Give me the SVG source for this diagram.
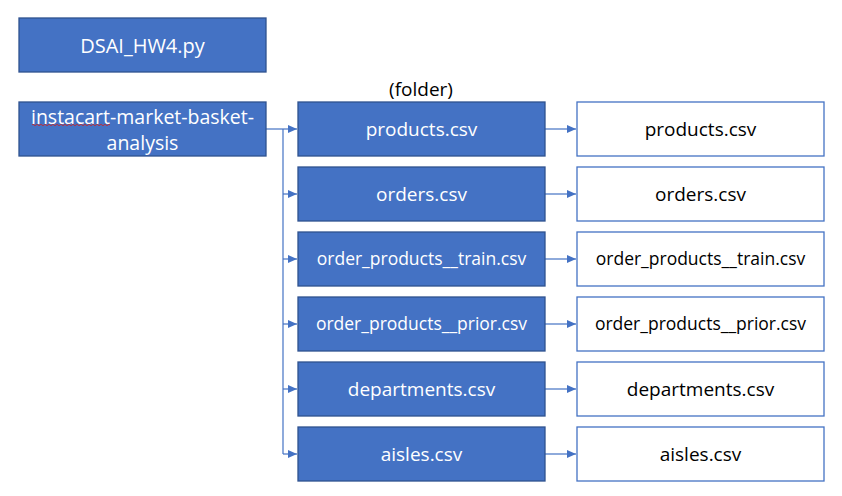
<svg xmlns="http://www.w3.org/2000/svg" width="842" height="496" viewBox="0 0 842 496">
<defs>
<style>
.fb{fill:#4472C4;stroke:#2F528F;stroke-width:1.3}
.wb{fill:#FFFFFF;stroke:#4472C4;stroke-width:1.3}
.tw{fill:#FFFFFF;font-family:"Open Sans","Noto Sans","DejaVu Sans",sans-serif;text-anchor:middle}
.tb{fill:#000000;font-family:"Open Sans","Noto Sans","DejaVu Sans",sans-serif;text-anchor:middle}
.c{fill:none;stroke:#4472C4;stroke-width:1.2}
</style>
<marker id="ah" markerWidth="10" markerHeight="10" refX="9" refY="5" orient="auto" markerUnits="userSpaceOnUse">
<path d="M0,1 L9,5 L0,9 Z" fill="#4472C4"/>
</marker>
</defs>
<rect width="842" height="496" fill="#FFFFFF"/>

<g id="connectors">
<path class="c" d="M266,129 H297" marker-end="url(#ah)"/>
<path class="c" d="M283,129 V454"/>
<path class="c" d="M283,194 H297" marker-end="url(#ah)"/>
<path class="c" d="M283,259 H297" marker-end="url(#ah)"/>
<path class="c" d="M283,324 H297" marker-end="url(#ah)"/>
<path class="c" d="M283,389 H297" marker-end="url(#ah)"/>
<path class="c" d="M283,454 H297" marker-end="url(#ah)"/>
<path class="c" d="M545,129 H576" marker-end="url(#ah)"/>
<path class="c" d="M545,194 H576" marker-end="url(#ah)"/>
<path class="c" d="M545,259 H576" marker-end="url(#ah)"/>
<path class="c" d="M545,324 H576" marker-end="url(#ah)"/>
<path class="c" d="M545,389 H576" marker-end="url(#ah)"/>
<path class="c" d="M545,454 H576" marker-end="url(#ah)"/>
</g>

<g id="dsai">
<rect class="fb" x="19" y="18" width="247" height="54"/>
<text class="tw" x="142.5" y="52.5" font-size="20">DSAI_HW4.py</text>
</g>

<g id="instacart">
<rect class="fb" x="19" y="102" width="247" height="54"/>
<text class="tw" x="142.5" y="124" font-size="19.5">instacart-market-basket-</text>
<text class="tw" x="142.5" y="149.5" font-size="19.5">analysis</text>
<path d="M32,125 q1,-1.5 2,0 t2,0 t2,0 t2,0 t2,0 t2,0 t2,0 t2,0 t2,0 t2,0 t2,0 t2,0 t2,0 t2,0 t2,0 t2,0 t2,0 t2,0 t2,0 t2,0 t2,0 t2,0 t2,0 t2,0 t2,0 t2,0 t2,0 t2,0 t2,0 t2,0 t2,0 t2,0 t2,0 t2,0 t2,0 t2,0 t2,0 t2,0 t2,0" fill="none" stroke="#D02020" stroke-width="0.8"/>
</g>

<text id="folder-label" class="tb" x="421" y="96" font-size="19">(folder)</text>

<g id="m-products">
<rect class="fb" x="298" y="102" width="247" height="54"/>
<text class="tw" x="421.5" y="135.5" font-size="19">products.csv</text>
</g>
<g id="m-orders">
<rect class="fb" x="298" y="167" width="247" height="54"/>
<text class="tw" x="421.5" y="200.5" font-size="19">orders.csv</text>
</g>
<g id="m-train">
<rect class="fb" x="298" y="232" width="247" height="54"/>
<text class="tw" x="421.5" y="265" font-size="17.5">order_products__train.csv</text>
</g>
<g id="m-prior">
<rect class="fb" x="298" y="297" width="247" height="54"/>
<text class="tw" x="421.5" y="330" font-size="17.5">order_products__prior.csv</text>
</g>
<g id="m-departments">
<rect class="fb" x="298" y="362" width="247" height="54"/>
<text class="tw" x="421.5" y="395.5" font-size="19">departments.csv</text>
</g>
<g id="m-aisles">
<rect class="fb" x="298" y="427" width="247" height="54"/>
<text class="tw" x="421.5" y="460.5" font-size="19">aisles.csv</text>
</g>

<g id="r-products">
<rect class="wb" x="577" y="102" width="247" height="54"/>
<text class="tb" x="700.5" y="135.5" font-size="19">products.csv</text>
</g>
<g id="r-orders">
<rect class="wb" x="577" y="167" width="247" height="54"/>
<text class="tb" x="700.5" y="200.5" font-size="19">orders.csv</text>
</g>
<g id="r-train">
<rect class="wb" x="577" y="232" width="247" height="54"/>
<text class="tb" x="700.5" y="265" font-size="17.5">order_products__train.csv</text>
</g>
<g id="r-prior">
<rect class="wb" x="577" y="297" width="247" height="54"/>
<text class="tb" x="700.5" y="330" font-size="17.5">order_products__prior.csv</text>
</g>
<g id="r-departments">
<rect class="wb" x="577" y="362" width="247" height="54"/>
<text class="tb" x="700.5" y="395.5" font-size="19">departments.csv</text>
</g>
<g id="r-aisles">
<rect class="wb" x="577" y="427" width="247" height="54"/>
<text class="tb" x="700.5" y="460.5" font-size="19">aisles.csv</text>
</g>
</svg>
